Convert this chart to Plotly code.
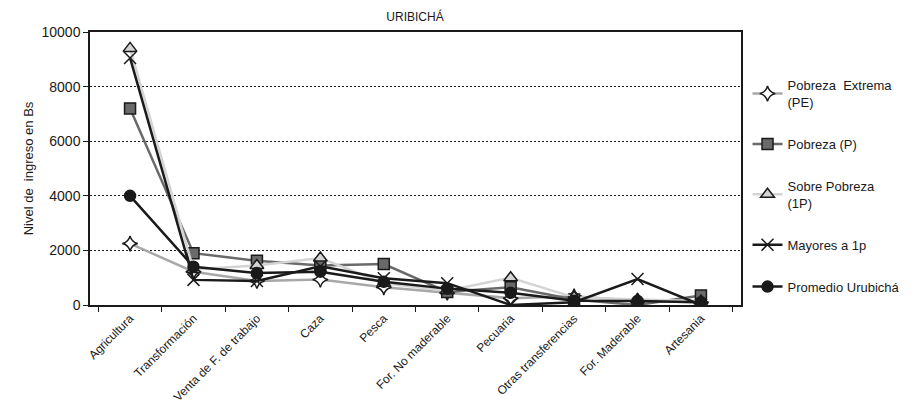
import plotly.graph_objects as go

# Income sources (categories on the x axis)
categorias = [
    "Agricultura", "Transformación", "Venta de F. de trabajo", "Caza", "Pesca",
    "For. No maderable", "Pecuaria", "Otras transferencias", "For. Maderable", "Artesania",
]

# Income level in Bs per poverty stratum
pobreza_extrema = [2250, 1220, 880, 930, 650, 450, 250, 320, 150, 100]
pobreza = [7200, 1900, 1620, 1450, 1500, 480, 650, 200, 0, 350]
sobre_pobreza = [9400, 1300, 1450, 1720, 800, 520, 1000, 280, 200, 150]
mayores_1p = [9050, 920, 880, 1420, 980, 800, 0, 100, 950, 0]
promedio = [4000, 1400, 1170, 1220, 850, 600, 450, 160, 150, 100]

y_ticks = [0, 2000, 4000, 6000, 8000, 10000]

FONT = "Liberation Sans Narrow, Liberation Sans, Arial, sans-serif"

series = [
    ("Pobreza  Extrema<br>(PE)", pobreza_extrema, "#a8a8a8", "star-diamond", "white", 11),
    ("Pobreza (P)", pobreza, "#6a6a6a", "square", "#6a6a6a", 11),
    ("Sobre Pobreza<br>(1P)", sobre_pobreza, "#d4d4d4", "triangle-up", "#d4d4d4", 12),
    ("Mayores a 1p", mayores_1p, "#1a1a1a", "x-thin", "#1a1a1a", 12),
    ("Promedio Urubichá", promedio, "#1a1a1a", "circle", "#1a1a1a", 11),
]

fig = go.Figure()
for i, (name, vals, color, symbol, fill, size) in enumerate(series):
    fig.add_trace(go.Scatter(
        x=categorias, y=vals, name=name, mode="lines+markers",
        legendgroup=str(i),
        line=dict(color=color, width=2.5),
        marker=dict(symbol=symbol, size=size, color=fill,
                    line=dict(color="#1a1a1a", width=1.5)),
    ))

fig.update_layout(
    width=918, height=420,
    margin=dict(l=90, r=174, t=32, b=115),
    paper_bgcolor="white", plot_bgcolor="white",
    font=dict(family=FONT, size=12, color="#1a1a1a"),
    title=dict(text="URIBICHÁ", x=415 / 918, xanchor="center", y=0.96, yanchor="middle",
               font=dict(family=FONT, size=12, color="#1a1a1a")),
    legend=dict(x=1.01, xanchor="left", y=0.86, yanchor="top",
                traceorder="grouped", tracegroupgap=22,
                font=dict(family=FONT, size=13, color="#1a1a1a"),
                bgcolor="rgba(0,0,0,0)"),
    showlegend=True,
)

fig.update_xaxes(
    type="category", tickangle=-45, tickson="boundaries",
    ticks="outside", ticklen=5, tickcolor="#1a1a1a",
    showline=True, linecolor="#1a1a1a", linewidth=1.5, mirror=True,
    showgrid=False, tickfont=dict(family=FONT, size=12, color="#1a1a1a"),
)
fig.update_yaxes(
    range=[0, 10000], tickvals=y_ticks, tickformat="d", ticks="outside", ticklen=5,
    tickcolor="#1a1a1a", showline=True, linecolor="#1a1a1a", linewidth=1.5,
    mirror=True, showgrid=True, gridcolor="#1a1a1a", griddash="2px,2px", gridwidth=1,
    zeroline=False,
    title=dict(text="Nivel de  ingreso en Bs", font=dict(family=FONT, size=13, color="#1a1a1a"),
               standoff=5),
    tickfont=dict(family=FONT, size=14, color="#1a1a1a"),
)

fig.write_html("out.html")
